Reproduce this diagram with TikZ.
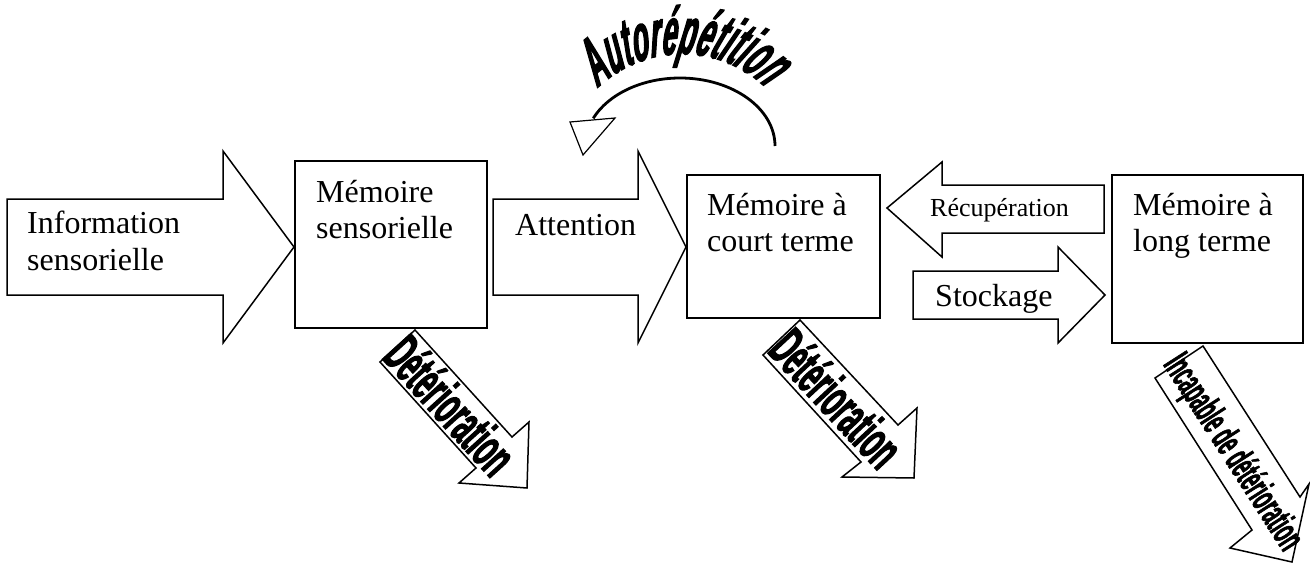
\documentclass[tikz,border=0pt]{standalone}
\usepackage{fontspec}
\setmainfont{Liberation Serif}
\newfontfamily\wordart[FakeStretch=0.41,FakeBold=1.8,FakeSlant=0.2]{Liberation Sans Bold Italic}
\newfontfamily\detfont[FakeStretch=0.47,FakeBold=1.8]{Liberation Sans Bold}
\newfontfamily\incfont[FakeStretch=0.45,FakeBold=1.4]{Liberation Sans Bold}
\usetikzlibrary{decorations.text}

\begin{document}
\begin{tikzpicture}[line join=miter, x=1pt, y=-1pt]
\tikzset{
    box/.style=       {draw, line width=1.5pt, inner sep=0pt},
    blockarrow/.style={draw, fill=white, line width=1.5pt},
    lbl/.style=       {inner sep=0pt, anchor=north west, align=left, font=\fontsize{32}{36.5}\selectfont},
    onelbl/.style=    {inner sep=0pt, anchor=base west, font=\fontsize{32}{36.5}\selectfont},
    det/.style=       {inner sep=0pt, font=\detfont\fontsize{56}{56}\selectfont}
}
\useasboundingbox (0,0) rectangle (1310,565);

%% memory boxes
\node[box, minimum width=192, minimum height=167] (sens) at (391,244.5) {};
\node[box, minimum width=193, minimum height=143] (court) at (783.5,246.5) {};
\node[box, minimum width=191, minimum height=168] (long) at (1207.5,259) {};

%% block arrows between the boxes
\draw[blockarrow] (7,199) -- (223,199) -- (223,151) -- (294,247) -- (223,343) -- (223,295) -- (7,295) -- cycle;
\draw[blockarrow] (493,199) -- (638,199) -- (638,151) -- (686,247) -- (638,343) -- (638,295) -- (493,295) -- cycle;
\draw[blockarrow] (1104,185) -- (942,185) -- (942,162) -- (887,208) -- (942,257) -- (942,233) -- (1104,233) -- cycle;
\draw[blockarrow] (913,271) -- (1058,271) -- (1058,247) -- (1105,295) -- (1058,343) -- (1058,319) -- (913,319) -- cycle;

%% falling arrows under the boxes
\draw[blockarrow] (415,330) -- (512,437) -- (529,422) -- (527,488) -- (459,483) -- (476,468) -- (380,362) -- cycle;
\draw[blockarrow] (800,320) -- (898,425) -- (917,408) -- (914,478) -- (842,477) -- (861,462) -- (763,355) -- cycle;
\draw[blockarrow] (1203,346) -- (1300,497) -- (1309,484) -- (1292,562) -- (1230,548) -- (1252,530) -- (1155,378) -- cycle;

%% texts
\node[lbl] (info) at (27,211) {Information\\sensorielle};
\node[lbl] (senstxt) at (316,180) {Mémoire\\sensorielle};
\node[onelbl] (attn) at (515,235) {Attention};
\node[lbl] (courttxt) at (707,193) {Mémoire à\\court terme};
\node[onelbl, font=\fontsize{26}{30}\selectfont] (recup) at (930,216) {Récupération};
\node[onelbl] (stock) at (935,306) {Stockage};
\node[lbl] (longtxt) at (1133,193) {Mémoire à\\long terme};

\node[det, rotate=-47.8] (det1) at (451,405) {Détérioration};
\node[det, rotate=-47] (det2) at (837,398) {Détérioration};
\node[inner sep=0pt, rotate=-57.3, font=\incfont\fontsize{40}{40}\selectfont] (incap) at (1232,453) {Incapable de détérioration};

%% rehearsal loop
\draw[line width=2.8pt] (775,146) arc[start angle=0, end angle=156, x radius=95pt, y radius=68pt];
\draw[blockarrow, line width=1.2pt] (570,122) -- (615,118) -- (583,155) -- cycle;
\path[decorate, decoration={text along path, text align={center},
    text={|\wordart\fontsize{66}{66}\selectfont|Autorépétition}}]
    (592,94) arc[start angle=138, end angle=42, radius=121pt];

\end{tikzpicture}
\end{document}
